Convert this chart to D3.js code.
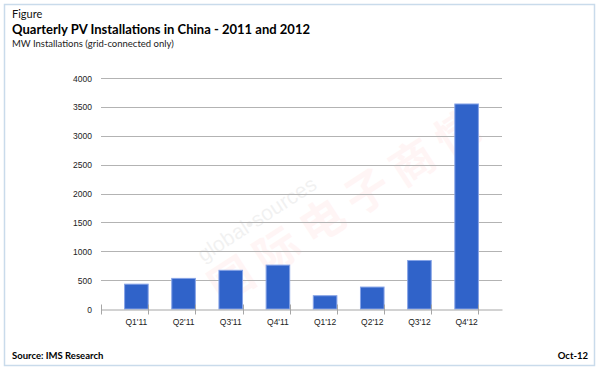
<html>
<script src="https://d3js.org/d3.v7.min.js"></script>
<body style="margin:0;background:#fff">
<div id="chart"></div>
<script>
    // quarterly PV installs, MW
    const quarters = ["Q1'11","Q2'11","Q3'11","Q4'11","Q1'12","Q2'12","Q3'12","Q4'12"];
    const installs = [430, 530, 670, 760, 230, 380, 840, 3550];
    const yTicks = [0, 500, 1000, 1500, 2000, 2500, 3000, 3500, 4000];

    const W = 600, H = 370;
    const svg = d3.select('#chart').append('svg').attr('width', W).attr('height', H);

    // outer frame
    svg.append('rect')
        .attr('x', 4.5).attr('y', 4.5).attr('width', 590).attr('height', 361)
        .attr('fill', '#fff').attr('stroke', '#c9dbeb').attr('stroke-width', 1.5);

    svg.append('text').text('Figure')
        .attr('x', 12).attr('y', 18)
        .attr('font-family', 'Lato, sans-serif').attr('font-size', 11).attr('fill', '#111');
    svg.append('text').text('Quarterly PV Installations in China - 2011 and 2012')
        .attr('x', 12).attr('y', 34)
        .attr('textLength', 298).attr('lengthAdjust', 'spacingAndGlyphs')
        .attr('font-family', 'Lato, sans-serif').attr('font-size', 14).attr('font-weight', 'bold').attr('fill', '#000');
    svg.append('text').text('MW Installations (grid-connected only)')
        .attr('x', 12).attr('y', 47)
        .attr('font-family', 'Lato, sans-serif').attr('font-size', 9.5).attr('fill', '#222');

    const x = d3.scaleBand().domain(quarters).range([101, 502]).padding(0.5);
    const y = d3.scaleLinear().domain([0, 4000]).range([309, 78]);

    // watermark, very faint
    const wm = svg.append('g').attr('transform', 'translate(215,262) rotate(-33)');
    wm.append('text').text('global•sources')
        .attr('x', -10).attr('y', -6)
        .attr('font-family', 'Liberation Sans, Arial').attr('font-size', 21)
        .attr('fill', '#000').attr('opacity', 0.05);
    wm.append('text').text('国际电子商情')
        .attr('x', -18).attr('y', 40)
        .attr('letter-spacing', 10)
        .attr('font-family', 'Noto Sans CJK SC').attr('font-size', 44).attr('font-weight', 'bold')
        .attr('fill', '#ff3030').attr('opacity', 0.045);

    // gridlines
    svg.append('g').selectAll('line').data(yTicks.slice(1)).enter().append('line')
        .attr('x1', 101).attr('x2', 502)
        .attr('y1', d => Math.round(y(d)) + 0.5).attr('y2', d => Math.round(y(d)) + 0.5)
        .attr('stroke', '#b3b3b3').attr('stroke-width', 1);

    // y labels
    svg.append('g').selectAll('text').data(yTicks).enter().append('text')
        .text(d => d)
        .attr('x', 92).attr('y', d => y(d) + 3.5)
        .attr('text-anchor', 'end')
        .attr('font-family', 'Liberation Sans, Arial').attr('font-size', 8.5).attr('fill', '#222');

    // bars
    svg.append('g').selectAll('rect').data(installs).enter().append('rect')
        .attr('x', (d, i) => x(quarters[i]))
        .attr('y', d => y(d))
        .attr('width', x.bandwidth())
        .attr('height', d => y(0) - y(d))
        .attr('fill', '#3063c9')
        .attr('stroke', '#86a3e6').attr('stroke-width', 1);

    // x axis
    const xAxis = d3.axisBottom(x).tickSize(0).tickPadding(9);
    const gx = svg.append('g').attr('transform', 'translate(0,309.5)').call(xAxis);
    gx.select('.domain').attr('stroke', '#a6a6a6');
    gx.selectAll('text').attr('font-family', 'Liberation Sans, Arial').attr('font-size', 8.5).attr('fill', '#222');
    // category separator ticks
    const sep = d3.range(quarters.length + 1).map(i => 101 + i * x.step());
    gx.selectAll('.sep').data(sep).enter().append('line')
        .attr('class', 'sep')
        .attr('x1', d => Math.round(d) + 0.5).attr('x2', d => Math.round(d) + 0.5)
        .attr('y1', -5).attr('y2', 5)
        .attr('stroke', '#a6a6a6');

    // footer
    svg.append('text').text('Source: IMS Research')
        .attr('x', 12).attr('y', 359)
        .attr('font-family', 'Lato, sans-serif').attr('font-size', 9.5).attr('font-weight', 'bold').attr('fill', '#000');
    svg.append('text').text('Oct-12')
        .attr('x', 588).attr('y', 359).attr('text-anchor', 'end')
        .attr('font-family', 'Lato, sans-serif').attr('font-size', 9.5).attr('font-weight', 'bold').attr('fill', '#000');
</script>
</body>
</html>
